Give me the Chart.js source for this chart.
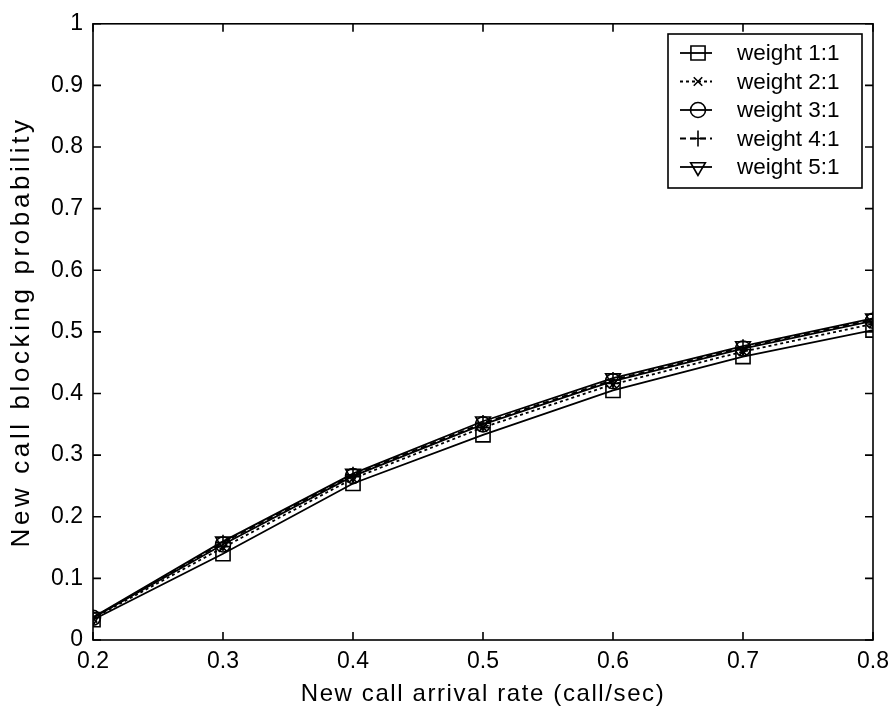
<!DOCTYPE html>
<html>
<head>
<meta charset="utf-8">
<script src="https://cdn.jsdelivr.net/npm/chart.js@4.4.1/dist/chart.umd.min.js"></script>
<style>
    html, body { margin: 0; padding: 0; background: #fff; }
    #wrap { width: 893px; height: 713px; }
</style>
</head>
<body>
<div id="wrap"><canvas id="lineChart"></canvas></div>
<script>

    // arrival rates (call/sec)
    var rates = [0.2, 0.3, 0.4, 0.5, 0.6, 0.7, 0.8];

    // blocking probability per weight
    var weight11 = [0.033, 0.140, 0.254, 0.333, 0.405, 0.460, 0.503];
    var weight21 = [0.035, 0.150, 0.262, 0.345, 0.415, 0.468, 0.513];
    var weight31 = [0.036, 0.155, 0.266, 0.350, 0.420, 0.473, 0.518];
    var weight41 = [0.036, 0.158, 0.268, 0.352, 0.422, 0.475, 0.520];
    var weight51 = [0.037, 0.160, 0.270, 0.355, 0.425, 0.477, 0.522];

    var seriesNames = ['weight 1:1', 'weight 2:1', 'weight 3:1', 'weight 4:1', 'weight 5:1'];

    var xTicks = [0.2, 0.3, 0.4, 0.5, 0.6, 0.7, 0.8];
    var yTicks = [0, 0.1, 0.2, 0.3, 0.4, 0.5, 0.6, 0.7, 0.8, 0.9, 1];

    var fontFam = "'Liberation Sans', Arial, sans-serif";

    function toPoints(vals) {
        var pts = [];
        for (var i = 0; i < rates.length; i++) {
            pts.push({x: rates[i], y: vals[i]});
        }
        return pts;
    }

    function makeSet(name, vals, style, dash, rot, size) {
        return {
            label: name,
            data: toPoints(vals),
            borderColor: '#000',
            borderWidth: 1.8,
            borderDash: dash,
            pointStyle: style,
            pointRotation: rot || 0,
            pointRadius: size,
            pointBorderWidth: 1.6,
            pointBorderColor: '#000',
            pointBackgroundColor: 'rgba(0,0,0,0)',
            fill: false,
            tension: 0
        };
    }

    // wider title text, the scan spreads the letters out
    function spreadTitle(s, gap) {
        if (s._spread) return;
        s._spread = true;
        var orig = s.drawTitle;
        s.drawTitle = function () {
            var c = this.ctx;
            c.save();
            c.letterSpacing = gap;
            orig.apply(this, arguments);
            c.restore();
        };
    }

    // matlab-ish box with inward ticks
    var boxPlugin = {
        id: 'box',
        afterDraw: function (chart) {
            var ctx = chart.ctx;
            var a = chart.chartArea;
            var xs = chart.scales.x, ys = chart.scales.y;
            ctx.save();
            ctx.strokeStyle = '#000';
            ctx.lineWidth = 1.6;
            ctx.strokeRect(a.left, a.top, a.right - a.left, a.bottom - a.top);
            ctx.beginPath();
            xTicks.forEach(function (t) {
                var px = xs.getPixelForValue(t);
                ctx.moveTo(px, a.bottom); ctx.lineTo(px, a.bottom - 8);
                ctx.moveTo(px, a.top); ctx.lineTo(px, a.top + 8);
            });
            yTicks.forEach(function (t) {
                var py = ys.getPixelForValue(t);
                ctx.moveTo(a.left, py); ctx.lineTo(a.left + 8, py);
                ctx.moveTo(a.right, py); ctx.lineTo(a.right - 8, py);
            });
            ctx.stroke();
            ctx.restore();
        }
    };

    // legend box drawn from the datasets
    var legendPlugin = {
        id: 'boxLegend',
        afterDraw: function (chart) {
            var ctx = chart.ctx;
            var sets = chart.data.datasets;
            var bx = 668, by = 34, bw = 194, bh = 154;
            ctx.save();
            ctx.fillStyle = '#fff';
            ctx.fillRect(bx, by, bw, bh);
            ctx.strokeStyle = '#000';
            ctx.lineWidth = 1.6;
            ctx.strokeRect(bx, by, bw, bh);
            ctx.font = '22.5px ' + fontFam;
            ctx.textBaseline = 'middle';
            for (var i = 0; i < sets.length; i++) {
                var ds = sets[i];
                var cy = by + 19 + i * 28.5;
                ctx.setLineDash(ds.borderDash || []);
                ctx.lineWidth = 1.8;
                ctx.strokeStyle = '#000';
                ctx.beginPath();
                ctx.moveTo(bx + 12, cy);
                ctx.lineTo(bx + 44, cy);
                ctx.stroke();
                ctx.setLineDash([]);
                ctx.lineWidth = 1.6;
                ctx.fillStyle = 'rgba(0,0,0,0)';
                Chart.helpers.drawPoint(ctx, {
                    pointStyle: ds.pointStyle,
                    radius: ds.pointRadius,
                    rotation: ds.pointRotation,
                    borderWidth: 1.6
                }, bx + 30, cy);
                ctx.fillStyle = '#000';
                ctx.fillText(ds.label, bx + 69, cy + 1);
            }
            ctx.restore();
        }
    };

    var lineData = {
        datasets: [
            makeSet(seriesNames[0], weight11, 'rect', [], 0, 10),
            makeSet(seriesNames[1], weight21, 'crossRot', [3, 3], 0, 6),
            makeSet(seriesNames[2], weight31, 'circle', [], 0, 7.5),
            makeSet(seriesNames[3], weight41, 'cross', [6, 4], 0, 8),
            makeSet(seriesNames[4], weight51, 'triangle', [], 180, 8.5)
        ]
    };

    var lineOptions = {
        responsive: true,
        maintainAspectRatio: false,
        animation: false,
        layout: {padding: {top: 22, right: 20, left: 0, bottom: 0}},
        plugins: {legend: {display: false}, tooltip: {enabled: false}},
        scales: {
            x: {
                type: 'linear',
                min: 0.2,
                max: 0.8,
                afterBuildTicks: function (s) {
                    s.ticks = xTicks.map(function (v) { return {value: v}; });
                },
                afterFit: function (s) {
                    s.height = 73;
                    s.paddingRight = 0;
                    spreadTitle(s, '1.6px');
                },
                grid: {display: false, drawTicks: false},
                border: {display: false},
                ticks: {
                    color: '#000',
                    padding: 8,
                    maxRotation: 0,
                    font: {family: fontFam, size: 23},
                    callback: function (v) { return String(Number(v.toFixed(1))); }
                },
                title: {
                    display: true,
                    text: 'New call arrival rate (call/sec)',
                    color: '#000',
                    font: {family: fontFam, size: 24},
                    padding: {top: 0, bottom: 4}
                }
            },
            y: {
                min: 0,
                max: 1,
                afterBuildTicks: function (s) {
                    s.ticks = yTicks.map(function (v) { return {value: v}; });
                },
                afterFit: function (s) {
                    s.width = 93;
                    spreadTitle(s, '3.6px');
                },
                grid: {display: false, drawTicks: false},
                border: {display: false},
                ticks: {
                    color: '#000',
                    padding: 10,
                    font: {family: fontFam, size: 23},
                    callback: function (v) { return String(Number(v.toFixed(1))); }
                },
                title: {
                    display: true,
                    text: 'New call blocking probability',
                    color: '#000',
                    font: {family: fontFam, size: 26},
                    padding: {top: 6, bottom: 0}
                }
            }
        }
    };

    var ctx = document.getElementById("lineChart").getContext("2d");
    new Chart(ctx, {type: 'line', data: lineData, options: lineOptions, plugins: [boxPlugin, legendPlugin]});

</script>
</body>
</html>
